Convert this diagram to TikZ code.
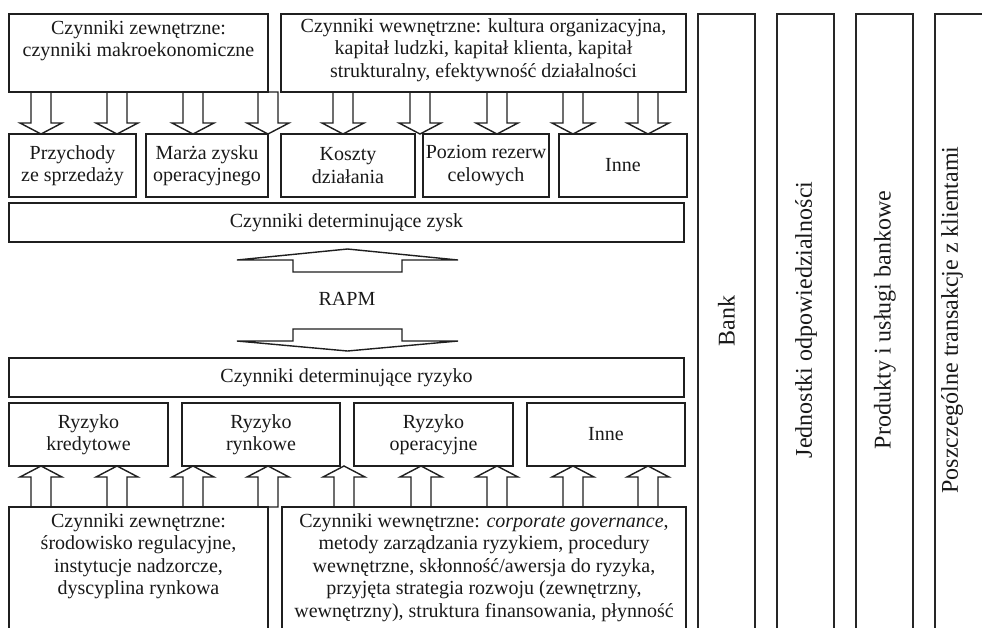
\documentclass[tikz,border=0pt]{standalone}
\usepackage{fontspec}
\setmainfont{Liberation Serif}
\usetikzlibrary{calc}
\newcommand{\fsz}{\fontsize{20}{22.5}\selectfont}
\newcommand{\fcol}{\fontsize{24}{26}\selectfont}
% block arrow pointing down: x, source node, target node
\newcommand{\arrDown}[3]{%
  \draw[barrow] let \p1=(#2.south), \p2=(#3.north) in
    (#1pt-10pt,\y1) -- (#1pt-10pt,\y2+11pt) -- (#1pt-21pt,\y2+11pt) -- (#1pt,\y2)
    -- (#1pt+21pt,\y2+11pt) -- (#1pt+10pt,\y2+11pt) -- (#1pt+10pt,\y1) -- cycle;}
% block arrow pointing up: x, source node, target node
\newcommand{\arrUp}[3]{%
  \draw[barrow] let \p1=(#2.north), \p2=(#3.south) in
    (#1pt-10pt,\y1) -- (#1pt-10pt,\y2-11pt) -- (#1pt-21pt,\y2-11pt) -- (#1pt,\y2)
    -- (#1pt+21pt,\y2-11pt) -- (#1pt+10pt,\y2-11pt) -- (#1pt+10pt,\y1) -- cycle;}
\begin{document}
\begin{tikzpicture}[x=1pt,y=-1pt,
  box/.style={draw=black!88, line width=1.6pt, inner sep=0pt, outer sep=0pt},
  colbox/.style={draw=black!85, line width=1.4pt, inner sep=0pt, outer sep=0pt},
  txt/.style={font=\fsz, align=center, inner sep=0pt, text=black!90},
  coltxt/.style={font=\fcol, rotate=90, inner sep=0pt, text=black!90},
  barrow/.style={draw=black!88, line width=1.4pt, fill=white, line join=miter}]
\useasboundingbox (0,0) rectangle (982,627);
\clip (0,0) rectangle (982,627);

% ---------- boxes ----------
\node[box, minimum width=259pt, minimum height=78pt] (tl) at (138.5,53) {};
\node[box, minimum width=405pt, minimum height=78pt] (tr) at (483.5,53) {};

\node[box, minimum width=127pt, minimum height=63pt] (r1) at (72.5,165.5) {};
\node[box, minimum width=122pt, minimum height=63pt] (r2) at (207,165.5) {};
\node[box, minimum width=134pt, minimum height=63pt] (r3) at (348,165.5) {};
\node[box, minimum width=126pt, minimum height=63pt] (r4) at (486,165.5) {};
\node[box, minimum width=128pt, minimum height=63pt] (r5) at (623,165.5) {};

\node[box, minimum width=675pt, minimum height=39pt] (zysk) at (346.5,222.5) {};
\node[box, minimum width=675pt, minimum height=39pt] (ryz) at (346.5,377.5) {};

\node[box, minimum width=159pt, minimum height=63pt] (k1) at (88.5,434.5) {};
\node[box, minimum width=158pt, minimum height=63pt] (k2) at (261,434.5) {};
\node[box, minimum width=159pt, minimum height=63pt] (k3) at (433.5,434.5) {};
\node[box, minimum width=158pt, minimum height=63pt] (k4) at (606,434.5) {};

\node[box, minimum width=259pt, minimum height=133pt] (bl) at (138.5,573.5) {};
\node[box, minimum width=404pt, minimum height=133pt] (br) at (484,573.5) {};

\node[colbox, minimum width=57pt, minimum height=626pt] (c1) at (726.5,327) {};
\node[colbox, minimum width=57pt, minimum height=626pt] (c2) at (805.5,327) {};
\node[colbox, minimum width=57pt, minimum height=626pt] (c3) at (884.5,327) {};
\node[colbox, minimum width=60pt, minimum height=626pt] (c4) at (965,327) {};

% ---------- texts ----------
\node[txt, anchor=north] (tlt) at ([yshift=-6pt]tl.north) {Czynniki zewnętrzne:\\czynniki makroekonomiczne};
\node[txt, anchor=north] (trt) at ([yshift=-4pt]tr.north) {Czynniki wewnętrzne: kultura organizacyjna,\\kapitał ludzki, kapitał klienta, kapitał\\strukturalny, efektywność działalności};

\node[txt] at (r1) {Przychody\\ze sprzedaży};
\node[txt] at (r2) {Marża zysku\\operacyjnego};
\node[txt] at (r3) {Koszty\\działania};
\node[txt] at (r4) {Poziom rezerw\\celowych};
\node[txt] at (r5) {Inne};

\node[txt] at (zysk) {Czynniki determinujące zysk};
\node[txt] (rapm) at (347,299) {RAPM};
\node[txt] at (ryz) {Czynniki determinujące ryzyko};

\node[txt] at (k1) {Ryzyko\\kredytowe};
\node[txt] at (k2) {Ryzyko\\rynkowe};
\node[txt] at (k3) {Ryzyko\\operacyjne};
\node[txt] at (k4) {Inne};

\node[txt, anchor=north] at ([yshift=-6pt]bl.north) {Czynniki zewnętrzne:\\środowisko regulacyjne,\\instytucje nadzorcze,\\dyscyplina rynkowa};
\node[txt, anchor=north] at ([yshift=-6pt]br.north) {Czynniki wewnętrzne: \textit{corporate governance},\\metody zarządzania ryzykiem, procedury\\wewnętrzne, skłonność/awersja do ryzyka,\\przyjęta strategia rozwoju (zewnętrzny,\\wewnętrzny), struktura finansowania, płynność};

\node[coltxt] at (726.5,321) {Bank};
\node[coltxt] at (806,320) {Jednostki odpowiedzialności};
\node[coltxt] at (885,320) {Produkty i usługi bankowe};
\node[coltxt] at (952,320) {Poszczególne transakcje z klientami};

% ---------- block arrows (top, downwards) ----------
\arrDown{41}{tl}{r1}
\arrDown{117}{tl}{r1}
\arrDown{193}{tl}{r2}
\arrDown{268}{tl}{r2}
\arrDown{343}{tr}{r3}
\arrDown{420}{tr}{r3}
\arrDown{497}{tr}{r4}
\arrDown{573}{tr}{r5}
\arrDown{648}{tr}{r5}

% ---------- block arrows (bottom, upwards) ----------
\arrUp{41}{bl}{k1}
\arrUp{117}{bl}{k1}
\arrUp{193}{bl}{k2}
\arrUp{268}{bl}{k2}
\arrUp{344}{br}{k3}
\arrUp{421}{br}{k3}
\arrUp{497}{br}{k3}
\arrUp{573}{br}{k4}
\arrUp{648}{br}{k4}

% redraw box borders over arrow joints
\foreach \n in {tl,tr,bl,br}{\draw[box] (\n.north west) rectangle (\n.south east);}

% ---------- RAPM arrows ----------
\draw[barrow] (293,272) -- (293,260) -- (237,260) -- (347.5,249) -- (458,260)
  -- (402,260) -- (402,272) -- cycle;
\draw[barrow] (293,329) -- (402,329) -- (402,341) -- (458,341) -- (347.5,351)
  -- (237,341) -- (293,341) -- cycle;
\end{tikzpicture}
\end{document}
